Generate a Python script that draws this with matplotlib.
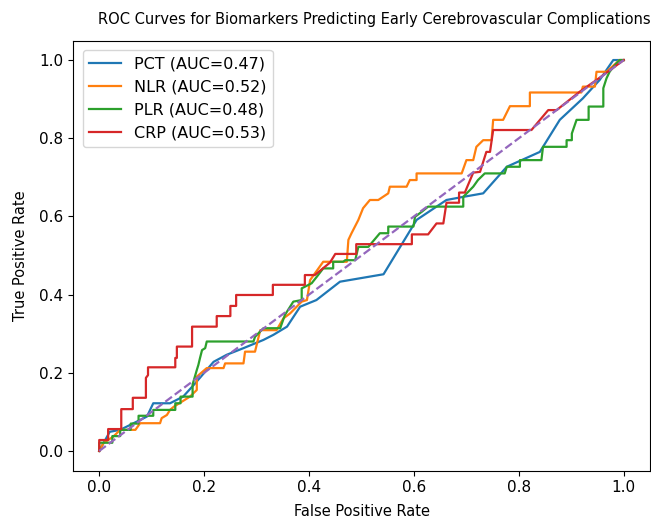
import matplotlib
matplotlib.use("Agg")
import matplotlib.pyplot as plt

# ROC curve points (FPR, TPR)
pct_roc = [(0, 0), (0.02, 0.049), (0.04, 0.054), (0.091, 0.088), (0.103, 0.122), (0.135, 0.122),
           (0.16, 0.139), (0.183, 0.173), (0.218, 0.228), (0.243, 0.246), (0.275, 0.263),
           (0.313, 0.284), (0.332, 0.297), (0.358, 0.318), (0.383, 0.369), (0.414, 0.386),
           (0.459, 0.433), (0.542, 0.452), (0.605, 0.591), (0.662, 0.642), (0.694, 0.65),
           (0.732, 0.659), (0.777, 0.727), (0.84, 0.765), (0.878, 0.847), (0.922, 0.902),
           (0.954, 0.949), (0.98, 1.0), (1.0, 1.0)]

nlr_roc = [(0, 0), (0.008, 0.02), (0.027, 0.037), (0.04, 0.054), (0.069, 0.054), (0.078, 0.071),
           (0.116, 0.071), (0.119, 0.084), (0.129, 0.092), (0.135, 0.105), (0.142, 0.113),
           (0.173, 0.139), (0.186, 0.156), (0.186, 0.19), (0.205, 0.212), (0.237, 0.212),
           (0.24, 0.224), (0.275, 0.224), (0.278, 0.254), (0.297, 0.254), (0.307, 0.309),
           (0.338, 0.309), (0.351, 0.339), (0.364, 0.352), (0.386, 0.382), (0.396, 0.386),
           (0.402, 0.437), (0.427, 0.484), (0.472, 0.484), (0.475, 0.54), (0.481, 0.557),
           (0.494, 0.591), (0.503, 0.621), (0.516, 0.642), (0.532, 0.642), (0.551, 0.659),
           (0.554, 0.676), (0.586, 0.676), (0.592, 0.693), (0.605, 0.693), (0.605, 0.71),
           (0.691, 0.71), (0.7, 0.744), (0.713, 0.744), (0.719, 0.778), (0.732, 0.795),
           (0.748, 0.795), (0.751, 0.847), (0.77, 0.847), (0.783, 0.882), (0.821, 0.882),
           (0.821, 0.917), (0.919, 0.917), (0.922, 0.932), (0.945, 0.932), (0.948, 0.97),
           (0.967, 0.97), (0.992, 1.0), (1.0, 1.0)]

plr_roc = [(0, 0), (0, 0.021), (0.025, 0.021), (0.025, 0.038), (0.04, 0.038), (0.04, 0.054),
           (0.06, 0.054), (0.06, 0.07), (0.075, 0.07), (0.075, 0.09), (0.103, 0.09), (0.103, 0.105),
           (0.145, 0.105), (0.145, 0.122), (0.155, 0.122), (0.155, 0.139), (0.178, 0.139),
           (0.178, 0.17), (0.186, 0.207), (0.189, 0.22), (0.192, 0.237), (0.196, 0.258),
           (0.202, 0.263), (0.205, 0.28), (0.294, 0.28), (0.297, 0.292), (0.313, 0.314),
           (0.345, 0.314), (0.354, 0.348), (0.37, 0.382), (0.386, 0.386), (0.386, 0.416),
           (0.405, 0.429), (0.415, 0.446), (0.427, 0.467), (0.446, 0.467), (0.446, 0.484),
           (0.465, 0.484), (0.469, 0.488), (0.488, 0.488), (0.494, 0.522), (0.513, 0.522),
           (0.535, 0.557), (0.551, 0.557), (0.551, 0.574), (0.599, 0.574), (0.602, 0.599),
           (0.615, 0.612), (0.627, 0.625), (0.694, 0.625), (0.694, 0.65), (0.713, 0.676),
           (0.722, 0.693), (0.735, 0.71), (0.773, 0.71), (0.777, 0.727), (0.802, 0.727),
           (0.802, 0.744), (0.843, 0.744), (0.846, 0.778), (0.891, 0.778), (0.891, 0.795),
           (0.901, 0.795), (0.901, 0.812), (0.91, 0.847), (0.933, 0.847), (0.933, 0.881),
           (0.961, 0.881), (0.961, 0.928), (0.967, 0.953), (0.973, 0.97), (0.983, 0.987),
           (0.992, 1.0), (1.0, 1.0)]

crp_roc = [(0, 0), (0, 0.028), (0.017, 0.028), (0.017, 0.056), (0.042, 0.056), (0.042, 0.107),
           (0.064, 0.107), (0.064, 0.136), (0.089, 0.136), (0.089, 0.187), (0.093, 0.194),
           (0.093, 0.214), (0.145, 0.214), (0.145, 0.238), (0.148, 0.238), (0.148, 0.267),
           (0.177, 0.267), (0.177, 0.318), (0.224, 0.318), (0.224, 0.345), (0.25, 0.345),
           (0.25, 0.371), (0.261, 0.371), (0.261, 0.399), (0.331, 0.399), (0.331, 0.425),
           (0.392, 0.425), (0.392, 0.45), (0.411, 0.45), (0.44, 0.482), (0.45, 0.504),
           (0.49, 0.504), (0.49, 0.529), (0.596, 0.529), (0.596, 0.554), (0.627, 0.554),
           (0.643, 0.582), (0.656, 0.582), (0.662, 0.635), (0.686, 0.635), (0.686, 0.661),
           (0.697, 0.661), (0.713, 0.712), (0.726, 0.714), (0.738, 0.765), (0.745, 0.765),
           (0.751, 0.821), (0.824, 0.821), (0.856, 0.872), (0.872, 0.872), (0.916, 0.919),
           (0.948, 0.949), (1.0, 1.0)]

biomarkers = ["PCT", "NLR", "PLR", "CRP"]
auc_values = [0.47, 0.52, 0.48, 0.53]
colors = ["#1f77b4", "#ff7f0e", "#2ca02c", "#d62728"]
curves = [pct_roc, nlr_roc, plr_roc, crp_roc]

fig = plt.figure(figsize=(6.51, 5.18), dpi=100)
ax = fig.add_axes([73 / 651, (518 - 470.5) / 518, 577 / 651, 430 / 518])

for name, auc, col, pts in zip(biomarkers, auc_values, colors, curves):
    fpr = [p[0] for p in pts]
    tpr = [p[1] for p in pts]
    ax.plot(fpr, tpr, color=col, lw=1.6, label=f"{name} (AUC={auc:.2f})")

ax.plot([0, 1], [0, 1], linestyle="--", color="#9467bd", lw=1.6)

ax.tick_params(labelsize=11)
ax.set_xlabel("False Positive Rate", fontsize=10.5, labelpad=6)
ax.set_ylabel("True Positive Rate", fontsize=10.5, labelpad=8)
ax.set_title("ROC Curves for Biomarkers Predicting Early Cerebrovascular Complications",
             fontsize=10.5, pad=12, x=0.522)
ax.legend(loc="upper left", fontsize=11.5, borderaxespad=0.6)

fig.savefig("out.png", dpi=100)
